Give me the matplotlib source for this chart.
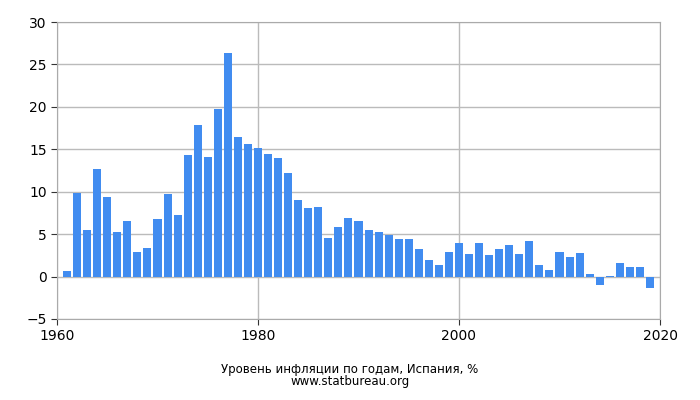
import matplotlib
matplotlib.use("Agg")
import matplotlib.pyplot as plt

years = list(range(1961, 2020))
values = [0.6, 9.9, 5.5, 12.7, 9.4, 5.3, 6.5, 2.9, 3.4, 6.8, 9.7, 7.3, 14.3, 17.9, 14.1, 19.8, 26.4,
          16.5, 15.6, 15.2, 14.4, 14.0, 12.2, 9.0, 8.1, 8.2, 4.6, 5.8, 6.9, 6.5, 5.5, 5.3, 4.9, 4.4,
          4.4, 3.2, 2.0, 1.4, 2.9, 4.0, 2.7, 4.0, 2.6, 3.3, 3.7, 2.7, 4.2, 1.4, 0.8, 2.9, 2.3, 2.8,
          0.3, -1.0, 0.1, 1.6, 1.1, 1.1, -1.3]

fig = plt.figure(figsize=(7, 4), dpi=100)
ax = fig.add_axes([57/700, 1-319/400, 603/700, 297/400])
ax.bar(years, values, width=0.8, color="#418cf0", zorder=3)
ax.set_xlim(1960, 2020)
ax.set_ylim(-5, 30)
ax.set_xticks([1960, 1980, 2000, 2020])
ax.set_yticks(range(-5, 31, 5))
ax.grid(True, color="#bbbbbb", linewidth=1, zorder=0)
for s in ax.spines.values():
    s.set_color("#aaaaaa")
ax.tick_params(labelsize=10, color="#333333", length=4)
fig.text(0.5, 1-370/400, "Уровень инфляции по годам, Испания, %", ha="center", va="center", fontsize=8.5)
fig.text(0.5, 1-382/400, "www.statbureau.org", ha="center", va="center", fontsize=8.5)
fig.savefig("out.png")
